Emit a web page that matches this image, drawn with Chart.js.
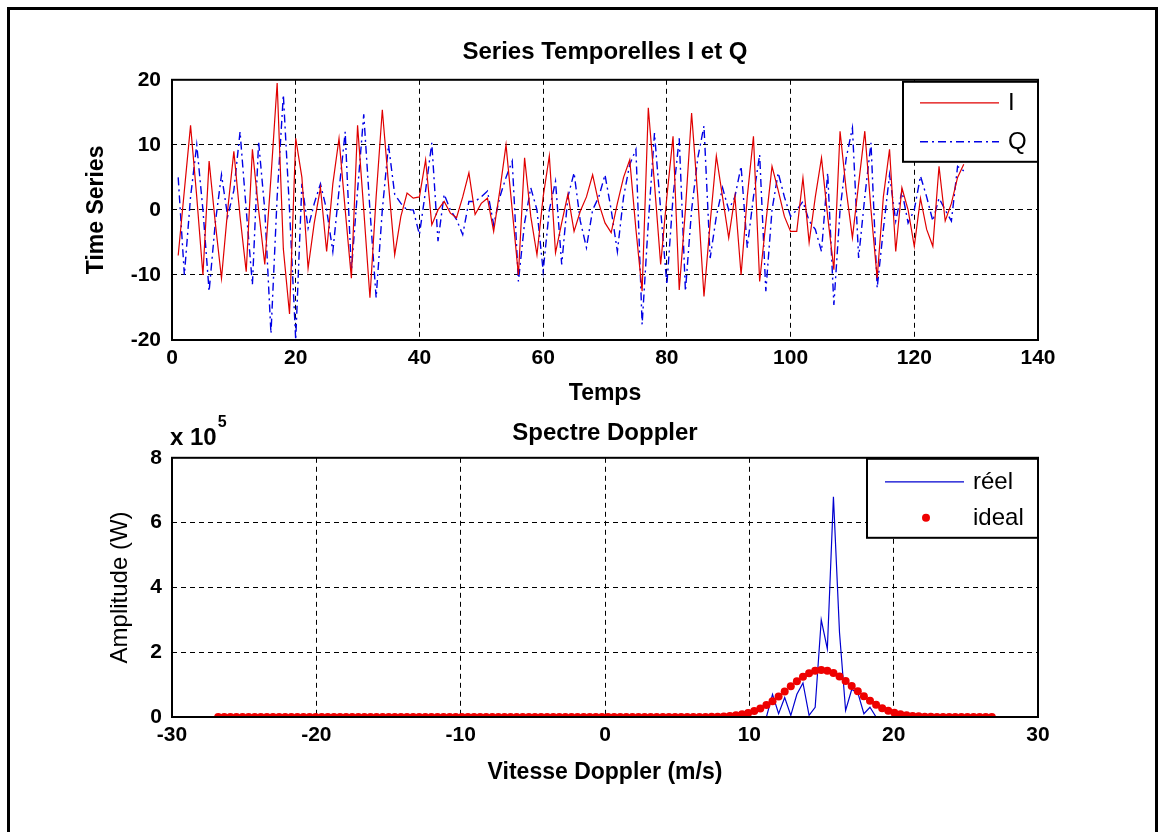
<!DOCTYPE html>
<html>
<head>
<meta charset="utf-8">
<script src="https://cdn.jsdelivr.net/npm/chart.js@4.4.1/dist/chart.umd.min.js"></script>
<style>
  body { margin: 0; background: #fff; }
  #frame { position: absolute; left: 7px; top: 7px; width: 1145px; height: 840px; border: 3px solid #000; }
  canvas { position: absolute; left: 0; background: transparent; }
  #topChart { top: 0; }
  #bottomChart { top: 400px; }
</style>
</head>
<body>
<div id="frame"></div>
<canvas id="topChart" width="1164" height="420"></canvas>
<canvas id="bottomChart" width="1164" height="432"></canvas>
<script>
// time series (t = 1..128)
const seriesI = [
  -7, 3, 13, 2, -10, 7.5, -2, -10.5, 0, 9, -1, -9.5, 9.3, 0, -8.4, 5, 19.5, -6, -16, 11,
  5, -9, -2, 3.4, -6.4, 4, 11, 0, -10.5, 13, 0, -13.5, 2, 15.4, 4, -6.9, -1, 2.6, 1.8, 2,
  7.7, -2.3, 0, 1.3, -0.5, -1.2, 2, 5.7, -0.7, 1, 1.8, -3.3, 3, 10, 0, -10, 8, -1, -6.9, 2,
  8.3, -6.6, -2, 2.4, -3.3, -0.2, 2, 5.4, 1, -2, -3.5, 1, 5, 7.7, -3, -12.5, 15.7, 4, -8.4, 2,
  11.3, -12.3, 0, 14.9, 2, -13.3, -2, 8.3, 2, -4.3, 2.1, -10, 2, 11.3, -11, -2, 6.7, 3, -1, -3.3,
  -3.3, 4.9, -5, 2, 8, -1, -9.2, 12.1, 3, -4.3, 4, 12.1, 0, -10.5, 2, 9.3, -6.4, 3.4, 0, -5.6,
  1.8, -3, -5.6, 6.7, -1.7, 1, 5, 7
];
const seriesQ = [
  5, -10, 2, 10, 0, -12.5, -2, 5.4, -1, 3, 12, 0, -11.5, 10.5, 0, -19, 2, 17.7, 0, -20,
  4, -2.8, 1, 4, 0, -6.4, 3, 12, -9.4, 3, 14.7, 0, -13.5, 0, 10, 2.4, 1, 0, 0, -3.8,
  3, 10.3, -4.8, 2.4, 0, -1.5, -3.8, 1.3, 1.3, 2, 2.9, -2.3, 2, 5, 7.5, -11, -2, 3.4, 0, -9.4,
  0, 4.4, -8.4, 2, 5.7, -1.7, -5.8, 0, 2, 5.4, 0, -6.4, 2, 7, 9.3, -17.6, -2, 11.8, 0, -11.5,
  2, 11, -12.5, 0, 8, 12.9, -7.4, -1, 3.4, 0, 2, 6.7, -5.8, 2, 8.5, -12.5, 0, 5.7, 2, -1,
  0, 1.3, -1.7, -3, -6.4, 5.7, -14.6, 0, 8, 12.6, -7.4, 2, 10.3, -12, -3, 5.4, -1.7, 2.9, -2, 0,
  5.2, 2, -1.7, 1.8, 0, -1.7, 6.7, 6
];
const timeSteps = [];
for (let t = 1; t <= seriesI.length; t++) timeSteps.push(t);

// Doppler spectrum, amplitude in units of 1e5 W (128 bins from -26.8 to 26.8 m/s)
const spectrumReel = [
  0, 0, 0, 0, 0, 0, 0, 0, 0, 0,  0, 0, 0, 0, 0, 0, 0, 0, 0, 0,
  0, 0, 0, 0, 0, 0, 0, 0, 0, 0,  0, 0, 0, 0, 0, 0, 0, 0, 0, 0,
  0, 0, 0, 0, 0, 0, 0, 0, 0, 0,  0, 0, 0, 0, 0, 0, 0, 0, 0, 0,
  0, 0, 0, 0, 0, 0, 0, 0, 0, 0,  0, 0, 0, 0, 0, 0, 0, 0, 0, 0,
  0, 0, 0, 0, 0, 0, 0, 0, 0, 0,  0, 0.7, 0.1, 0.6, 0.05, 0.7, 1.05, 0.05, 0.3, 3.0,
  2.1, 6.8, 2.6, 0.2, 0.85, 0.75, 0.1, 0.3, 0, 0,  0, 0, 0, 0, 0, 0, 0, 0, 0, 0,
  0, 0, 0, 0, 0, 0, 0, 0
];
const spectrumIdeal = [
  0, 0, 0, 0, 0, 0, 0, 0, 0, 0,  0, 0, 0, 0, 0, 0, 0, 0, 0, 0,
  0, 0, 0, 0, 0, 0, 0, 0, 0, 0,  0, 0, 0, 0, 0, 0, 0, 0, 0, 0,
  0, 0, 0, 0, 0, 0, 0, 0, 0, 0,  0, 0, 0, 0, 0, 0, 0, 0, 0, 0,
  0, 0, 0, 0, 0, 0, 0, 0, 0, 0,  0, 0, 0, 0, 0, 0, 0, 0, 0, 0,
  0.003, 0.006, 0.011, 0.019, 0.032, 0.052, 0.083, 0.126, 0.186, 0.266,
  0.367, 0.488, 0.630, 0.785, 0.946, 1.102, 1.241, 1.352, 1.424, 1.450,
  1.428, 1.359, 1.251, 1.114, 0.958, 0.798, 0.642, 0.499, 0.375, 0.273,
  0.192, 0.131, 0.086, 0.055, 0.034, 0.020, 0.011, 0.006, 0.003, 0,
  0, 0, 0, 0, 0, 0, 0, 0
];
const velocities = [];
for (let i = 0; i < spectrumIdeal.length; i++) velocities.push(-26.8 + i * 53.6 / 127);

const FONT = '"Liberation Sans", Arial, sans-serif';
Chart.defaults.font.family = FONT;
Chart.defaults.color = '#000';

// black frame round the axes, matlab-like boxed legend, and the x10^5 exponent
const boxPlugin = {
  id: 'boxPlugin',
  afterDraw(chart, args, opts) {
    const ctx = chart.ctx;
    const a = chart.chartArea;
    ctx.save();
    ctx.setLineDash([]);
    ctx.strokeStyle = '#000';
    ctx.lineWidth = 2;
    ctx.strokeRect(a.left, a.top, a.right - a.left, a.bottom - a.top);

    if (opts.exponent) {
      ctx.fillStyle = '#000';
      ctx.textBaseline = 'alphabetic';
      ctx.textAlign = 'left';
      ctx.font = 'bold 24px ' + FONT;
      const base = 'x 10';
      ctx.fillText(base, a.left - 2, a.top - 13);
      const w = ctx.measureText(base).width;
      ctx.font = 'bold 16px ' + FONT;
      ctx.fillText(opts.exponent, a.left - 2 + w + 1, a.top - 31);
    }

    const lg = opts.legend;
    const bx = a.right - lg.width;
    const by = a.top + lg.dy;
    ctx.fillStyle = '#fff';
    ctx.fillRect(bx, by, lg.width, lg.height);
    ctx.strokeStyle = '#000';
    ctx.lineWidth = 2;
    ctx.strokeRect(bx, by, lg.width, lg.height);
    ctx.font = '24px ' + FONT;
    ctx.textBaseline = 'middle';
    ctx.textAlign = 'left';
    lg.rows.forEach((dsIndex, k) => {
      const ds = chart.data.datasets[dsIndex];
      const y = by + lg.rowY[k];
      if (ds.showLine === false) {
        ctx.fillStyle = ds.backgroundColor;
        ctx.beginPath();
        ctx.arc(bx + lg.dotX, y, ds.pointRadius, 0, Math.PI * 2);
        ctx.fill();
      } else {
        ctx.strokeStyle = ds.borderColor;
        ctx.lineWidth = ds.borderWidth;
        ctx.setLineDash(ds.borderDash || []);
        ctx.beginPath();
        ctx.moveTo(bx + lg.lineX[0], y);
        ctx.lineTo(bx + lg.lineX[1], y);
        ctx.stroke();
        ctx.setLineDash([]);
      }
      ctx.fillStyle = '#000';
      ctx.fillText(ds.label, bx + lg.textX, y + 1);
    });
    ctx.restore();
  }
};

function gridScale(min, max, step, fitFn, title, titleFont, titlePad) {
  return {
    type: 'linear',
    min: min,
    max: max,
    ticks: { stepSize: step, font: { size: 21, weight: 'bold' }, color: '#000', maxRotation: 0, padding: 6 },
    grid: { color: '#000', lineWidth: 1, drawTicks: false },
    border: { display: false, dash: [5, 4] },
    title: { display: true, text: title, font: titleFont, color: '#000', padding: titlePad },
    afterFit: fitFn
  };
}

// top panel: canvas 0..420, plot area 80..340
const topXScale = gridScale(0, 140, 20, s => { s.height = 80; }, 'Temps',
  { size: 23, weight: 'bold' }, { top: 0, bottom: 13 });
const topYScale = gridScale(-20, 20, 10, s => { s.width = 172; }, 'Time Series',
  { size: 23, weight: 'bold' }, { top: 83, bottom: 0 });
topYScale.ticks.padding = 11;

new Chart(document.getElementById('topChart'), {
  type: 'line',
  data: {
    datasets: [
      {
        label: 'I',
        data: timeSteps.map((t, i) => ({ x: t, y: seriesI[i] })),
        borderColor: '#e00000',
        borderWidth: 1.2,
        pointRadius: 0,
        tension: 0
      },
      {
        label: 'Q',
        data: timeSteps.map((t, i) => ({ x: t, y: seriesQ[i] })),
        borderColor: '#0000e6',
        borderWidth: 1.4,
        borderDash: [8, 4, 2, 4],
        pointRadius: 0,
        tension: 0
      }
    ]
  },
  options: {
    responsive: false,
    animation: false,
    layout: { padding: { left: 0, right: 126, top: 0, bottom: 0 } },
    scales: { x: topXScale, y: topYScale },
    plugins: {
      legend: { display: false },
      tooltip: { enabled: false },
      title: {
        display: true,
        fullSize: false,
        text: 'Series Temporelles I et Q',
        font: { size: 24, weight: 'bold' },
        color: '#000',
        padding: { top: 38, bottom: 13 }
      },
      boxPlugin: {
        legend: { width: 135, height: 80, dy: 2, rows: [0, 1], rowY: [21, 60], lineX: [17, 96], dotX: 56, textX: 105 }
      }
    }
  },
  plugins: [boxPlugin]
});

// bottom panel: canvas 400..832, plot area 458..717
const botXScale = gridScale(-30, 30, 10, s => { s.height = 115; }, 'Vitesse Doppler (m/s)',
  { size: 23, weight: 'bold' }, { top: 0, bottom: 46 });
const botYScale = gridScale(0, 8, 2, s => { s.width = 172; }, 'Amplitude (W)',
  { size: 24, weight: 'normal' }, { top: 106, bottom: 0 });
botYScale.ticks.padding = 10;

new Chart(document.getElementById('bottomChart'), {
  type: 'line',
  data: {
    datasets: [
      {
        label: 'ideal',
        data: velocities.map((v, i) => ({ x: v, y: spectrumIdeal[i] })),
        showLine: false,
        pointRadius: 4,
        pointBorderWidth: 0,
        backgroundColor: '#ee0000',
        borderColor: '#ee0000'
      },
      {
        label: 'réel',
        data: velocities.map((v, i) => ({ x: v, y: spectrumReel[i] })),
        borderColor: '#0000d0',
        borderWidth: 1.2,
        pointRadius: 0,
        tension: 0
      }
    ]
  },
  options: {
    responsive: false,
    animation: false,
    layout: { padding: { left: 0, right: 126, top: 0, bottom: 0 } },
    scales: { x: botXScale, y: botYScale },
    plugins: {
      legend: { display: false },
      tooltip: { enabled: false },
      title: {
        display: true,
        fullSize: false,
        text: 'Spectre Doppler',
        font: { size: 24, weight: 'bold' },
        color: '#000',
        padding: { top: 19, bottom: 10 }
      },
      boxPlugin: {
        exponent: '5',
        legend: { width: 171, height: 79, dy: 1, rows: [1, 0], rowY: [23, 59], lineX: [18, 97], dotX: 59, textX: 106 }
      }
    }
  },
  plugins: [boxPlugin]
});
</script>
</body>
</html>
